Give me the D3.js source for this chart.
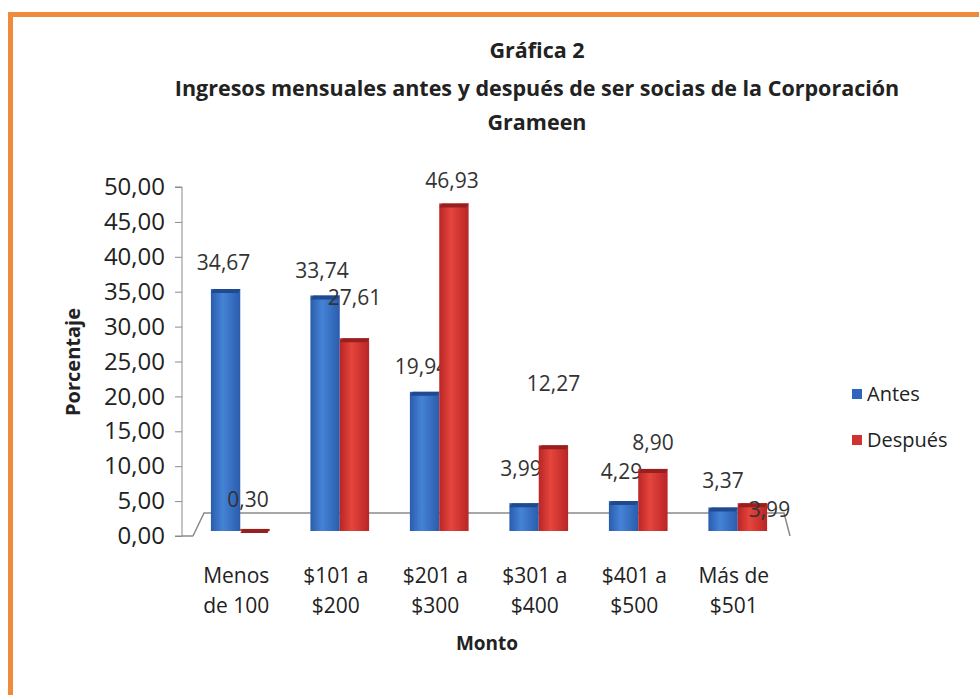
<!DOCTYPE html>
<html>
<head>
<meta charset="utf-8">
<title>Gráfica 2</title>
<script src="https://d3js.org/d3.v7.min.js"></script>
<style>
  html, body { margin: 0; padding: 0; background: #fff; }
  svg text { font-family: "Open Sans", "Noto Sans", sans-serif; fill: #222; }
  .axis path, .axis line { stroke: #8a8a8a; }
</style>
</head>
<body>
<script>
// chart data
var categories = ["Menos de 100", "$101 a $200", "$201 a $300", "$301 a $400", "$401 a $500", "Más de $501"];
var catLines = [["Menos", "de 100"], ["$101 a", "$200"], ["$201 a", "$300"], ["$301 a", "$400"], ["$401 a", "$500"], ["Más de", "$501"]];
var series = ["Antes", "Después"];
var antes = [34.67, 33.74, 19.94, 3.99, 4.29, 3.37];
var despues = [0.30, 27.61, 46.93, 12.27, 8.90, 3.99];
var yTicks = [0, 5, 10, 15, 20, 25, 30, 35, 40, 45, 50];
var titleLines = ["Gráfica 2", "Ingresos mensuales antes y después de ser socias de la Corporación", "Grameen"];

// where Excel dropped the value labels (lift above bar top, sideways nudge)
var liftAntes = [26, 25, 25, 34, 29, 27];
var liftDespues = [29, 41, 23, 62, 26, -7];
var nudgeAntes = [-2, -3, -3, -3, -2, 0];
var nudgeDespues = [-7, 0, -2, 0, 0, 17];

var width = 979, height = 695;
var colors = { "Antes": "#2f66bd", "Después": "#d03131" };
var darker = { "Antes": "#1f4a8f", "Después": "#97201f" };

var svg = d3.select("body").append("svg")
  .attr("width", width)
  .attr("height", height);

// gradients so bars look a bit rounded like the 3D excel ones
var defs = svg.append("defs");
[["Antes", "#2a5cad", "#4583d6"], ["Después", "#b92526", "#e5453c"]].forEach(function(g, i) {
  var lg = defs.append("linearGradient").attr("id", "grad" + i)
    .attr("x1", "0%").attr("x2", "100%").attr("y1", "0%").attr("y2", "0%");
  lg.append("stop").attr("offset", "0%").attr("stop-color", g[1]);
  lg.append("stop").attr("offset", "40%").attr("stop-color", g[2]);
  lg.append("stop").attr("offset", "100%").attr("stop-color", g[1]);
});

// orange frame of the picture
svg.append("rect")
  .attr("x", 10.5).attr("y", 14.5)
  .attr("width", width + 20).attr("height", height + 20)
  .attr("fill", "none")
  .attr("stroke", "#ef8b3c")
  .attr("stroke-width", 5);

// title
svg.append("g").selectAll("text")
  .data(titleLines)
  .enter().append("text")
  .attr("x", 537)
  .attr("y", function(d, i) { return [50, 88, 122][i]; })
  .attr("dy", "0.35em")
  .attr("text-anchor", "middle")
  .style("font-weight", "bold")
  .style("font-size", "21.5px")
  .text(function(d) { return d; });

// scales
var yAxisScale = d3.scaleLinear().domain([0, 50]).range([536, 187]);
var yBar = d3.scaleLinear().domain([0, 50]).range([531, 182]);   // bars sit half way into the floor

var x0 = d3.scaleBand()
  .domain(categories)
  .range([193, 785])
  .paddingInner(0.41)
  .paddingOuter(0.18);

var x1 = d3.scaleBand()
  .domain(series)
  .range([0, x0.bandwidth()]);

var loc = d3.formatLocale({ decimal: ",", thousands: ".", grouping: [3], currency: ["$", ""] });
var fmt = loc.format(".2f");

// floor (3d base)
var fl = [[193, 536], [204, 513], [784, 513], [790, 536]];
svg.append("path")
  .attr("d", d3.line()(fl))
  .attr("fill", "#fff")
  .attr("stroke", "#8a8a8a")
  .attr("stroke-width", 1.5);

// y axis
var yAxis = svg.append("g")
  .attr("class", "axis")
  .attr("transform", "translate(182,0)")
  .call(d3.axisLeft(yAxisScale).tickValues(yTicks).tickSize(7).tickPadding(10).tickFormat(fmt));
yAxis.select(".domain").attr("d", "M-7," + yAxisScale(50) + "H0V" + yAxisScale(0) + "H-7");
yAxis.selectAll("text").style("font-size", "24px").style("fill", "#222");

// front edge of floor joined to the axis
svg.append("line")
  .attr("x1", 182).attr("x2", 193)
  .attr("y1", 536).attr("y2", 536)
  .attr("stroke", "#8a8a8a").attr("stroke-width", 1.5);

// bar records
var rows = [];
categories.forEach(function(c, i) {
  rows.push({ cat: c, s: "Antes", v: antes[i], lift: liftAntes[i], nudge: nudgeAntes[i], gi: 0 });
  rows.push({ cat: c, s: "Después", v: despues[i], lift: liftDespues[i], nudge: nudgeDespues[i], gi: 1 });
});

var bars = svg.append("g").selectAll("g")
  .data(rows)
  .enter().append("g")
  .attr("transform", function(d) { return "translate(" + (x0(d.cat) + x1(d.s)) + ",0)"; });

var bw = x1.bandwidth();

bars.append("rect")
  .attr("x", 0)
  .attr("y", function(d) { return yBar(d.v); })
  .attr("width", bw)
  .attr("height", function(d) { return yBar(0) - yBar(d.v); })
  .attr("fill", function(d) { return "url(#grad" + d.gi + ")"; });

// darker top face
bars.append("path")
  .attr("d", function(d) {
    var t = yBar(d.v);
    return "M0," + (t + 4) + "L3," + t + "H" + bw + "L" + (bw - 2) + "," + (t + 4) + "Z";
  })
  .attr("fill", function(d) { return darker[d.s]; });

// value labels
bars.append("text")
  .attr("x", function(d) { return bw / 2 + d.nudge; })
  .attr("y", function(d) { return yBar(d.v) - d.lift; })
  .attr("dy", "0.35em")
  .attr("text-anchor", "middle")
  .style("font-size", "21px")
  .style("fill", "#333")
  .text(function(d) { return fmt(d.v); });

// category labels
var cl = svg.append("g").selectAll("text")
  .data(categories)
  .enter().append("text")
  .attr("x", function(d) { return x0(d) + x0.bandwidth() / 2 - 4; })
  .attr("y", 576)
  .attr("text-anchor", "middle")
  .style("font-size", "21px");
cl.selectAll("tspan")
  .data(function(d, i) { return catLines[i]; })
  .enter().append("tspan")
  .attr("x", function() { return d3.select(this.parentNode).attr("x"); })
  .attr("dy", function(d, i) { return i === 0 ? "0.35em" : "1.4em"; })
  .text(function(d) { return d; });

// axis titles
svg.append("text")
  .attr("transform", "translate(73,362) rotate(-90)")
  .attr("dy", "0.35em")
  .attr("text-anchor", "middle")
  .style("font-weight", "bold")
  .style("font-size", "20px")
  .text("Porcentaje");

svg.append("text")
  .attr("x", 487).attr("y", 643)
  .attr("dy", "0.35em")
  .attr("text-anchor", "middle")
  .style("font-weight", "bold")
  .style("font-size", "19px")
  .text("Monto");

// legend
var legend = svg.append("g").selectAll("g")
  .data(series)
  .enter().append("g")
  .attr("transform", function(d, i) { return "translate(852," + (394 + i * 46) + ")"; });
legend.append("rect")
  .attr("x", 0).attr("y", -5)
  .attr("width", 10).attr("height", 10)
  .attr("fill", function(d) { return colors[d]; });
legend.append("text")
  .attr("x", 15)
  .attr("dy", "0.35em")
  .style("font-size", "20px")
  .text(function(d) { return d; });
</script>
</body>
</html>
